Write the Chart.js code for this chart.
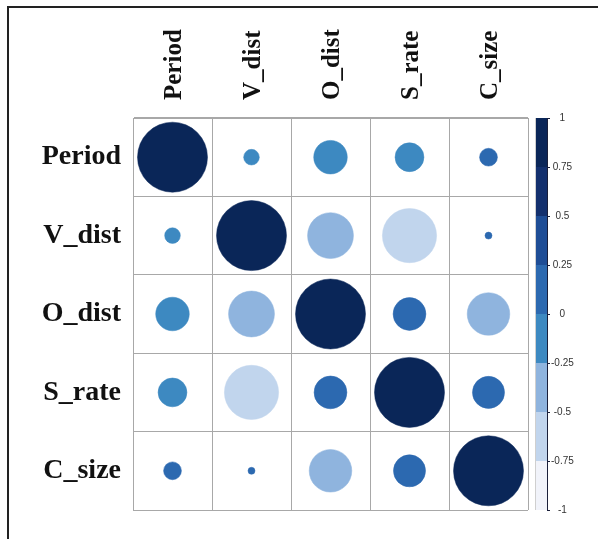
<!DOCTYPE html>
<html lang="en">
<head>
<meta charset="UTF-8">
<title>Correlation matrix</title>
<script src="https://cdn.jsdelivr.net/npm/chart.js"></script>
<style>
  html, body { margin: 0; padding: 0; background: #fff; }
  #wrap { width: 598px; height: 539px; }
</style>
</head>
<body>
<div id="wrap"><canvas id="corrChart" width="598" height="539"></canvas></div>
<script>
// variables (same order on both axes)
const variables = ['Period', 'V_dist', 'O_dist', 'S_rate', 'C_size'];

// correlation rows (size + colour)
const periodRow = [1, -0.05, -0.23, -0.17, 0.065];
const vDistRow  = [-0.05, 1, -0.43, -0.6, 0.01];
const oDistRow  = [-0.23, -0.43, 1, 0.22, -0.37];
const sRateRow  = [-0.17, -0.6, 0.22, 1, 0.21];
const cSizeRow  = [0.065, 0.01, -0.37, 0.21, 1];
const corrRows = [periodRow, vDistRow, oDistRow, sRateRow, cSizeRow];

// colour legend
const legendTicks = [1, 0.75, 0.5, 0.25, 0, -0.25, -0.5, -0.75, -1];
const binEdges = [-1, -0.75, -0.5, -0.25, 0, 0.25, 0.5, 0.75, 1];
const binColors = ['#f1f3fa', '#c1d5ed', '#8fb4de', '#3d89c1', '#2c69b0', '#1e4d96', '#13306e', '#0a2658'];

function colorFor(v) {
  for (let i = 0; i < binColors.length; i++) {
    if (v <= binEdges[i + 1]) return binColors[i];
  }
  return binColors[binColors.length - 1];
}

const points = [];
corrRows.forEach((row, i) => {
  row.forEach((v, j) => points.push({ x: variables[j], y: variables[i], v: v }));
});

const gridColor = '#a8a8a8';

// outer frame + colour bar
const decorPlugin = {
  id: 'decor',
  afterDraw(chart) {
    const c = chart.ctx;
    const s = chart.scales.y2;
    c.save();
    // colour bar
    const x0 = 535, x1 = 547;
    for (let i = 0; i < binColors.length; i++) {
      const yTop = s.getPixelForValue(binEdges[i + 1]);
      const yBot = s.getPixelForValue(binEdges[i]);
      c.fillStyle = binColors[i];
      c.fillRect(x0, yTop, x1 - x0, yBot - yTop);
    }
    c.strokeStyle = '#cfcfcf';
    c.lineWidth = 1;
    c.beginPath();
    c.moveTo(x0 + 0.5, s.getPixelForValue(1));
    c.lineTo(x0 + 0.5, s.getPixelForValue(-1));
    c.stroke();
    c.strokeStyle = '#1a1f3a';
    c.beginPath();
    c.moveTo(x1 + 0.5, s.getPixelForValue(1));
    c.lineTo(x1 + 0.5, s.getPixelForValue(-1));
    legendTicks.forEach(t => {
      const y = Math.round(s.getPixelForValue(t)) + 0.5;
      c.moveTo(x1, y);
      c.lineTo(x1 + 3, y);
    });
    c.stroke();
    // frame
    c.strokeStyle = '#222';
    c.lineWidth = 2;
    c.beginPath();
    c.moveTo(8, 539);
    c.lineTo(8, 7);
    c.lineTo(598, 7);
    c.stroke();
    c.restore();
  }
};

const cellRadius = ctx => {
  const area = ctx.chart.chartArea;
  if (!area || !ctx.raw) return 0;
  const cell = (area.right - area.left) / variables.length;
  return cell * 0.443 * Math.sqrt(Math.abs(ctx.raw.v));
};

new Chart(document.getElementById('corrChart'), {
  type: 'scatter',
  data: {
    datasets: [{
      data: points,
      pointStyle: 'circle',
      radius: cellRadius,
      hoverRadius: cellRadius,
      backgroundColor: ctx => ctx.raw ? colorFor(ctx.raw.v) : '#000',
      borderColor: ctx => ctx.raw ? colorFor(ctx.raw.v) : '#000',
      borderWidth: 0.5
    }]
  },
  options: {
    responsive: false,
    animation: false,
    events: [],
    layout: { padding: { top: 0, left: 0, right: 0, bottom: 27 } },
    plugins: { legend: { display: false }, tooltip: { enabled: false } },
    scales: {
      x: {
        type: 'category',
        labels: variables,
        position: 'top',
        offset: true,
        grid: { offset: true, color: gridColor, drawTicks: false },
        border: { color: gridColor },
        ticks: {
          autoSkip: false,
          minRotation: 90,
          maxRotation: 90,
          padding: 18,
          labelOffset: 32,
          color: '#111',
          font: { family: '"Liberation Serif", "Times New Roman", serif', size: 25, weight: 'bold' }
        },
        afterFit: s => { s.height = 118; }
      },
      y: {
        type: 'category',
        labels: variables,
        position: 'left',
        offset: true,
        grid: { offset: true, color: gridColor, drawTicks: false },
        border: { color: gridColor },
        ticks: {
          autoSkip: false,
          padding: 12,
          color: '#111',
          font: { family: '"Liberation Serif", "Times New Roman", serif', size: 28, weight: 'bold' }
        },
        afterFit: s => { s.width = 133; }
      },
      y2: {
        type: 'linear',
        position: 'right',
        min: -1,
        max: 1,
        grid: { display: false, drawTicks: false },
        border: { display: false },
        ticks: {
          stepSize: 0.25,
          autoSkip: false,
          padding: 23,
          crossAlign: 'center',
          color: '#333',
          font: { family: '"Liberation Sans", Arial, sans-serif', size: 10 },
          callback: v => String(Math.round(v * 100) / 100)
        },
        afterFit: s => { s.width = 70; }
      }
    }
  },
  plugins: [decorPlugin]
});
</script>
</body>
</html>
